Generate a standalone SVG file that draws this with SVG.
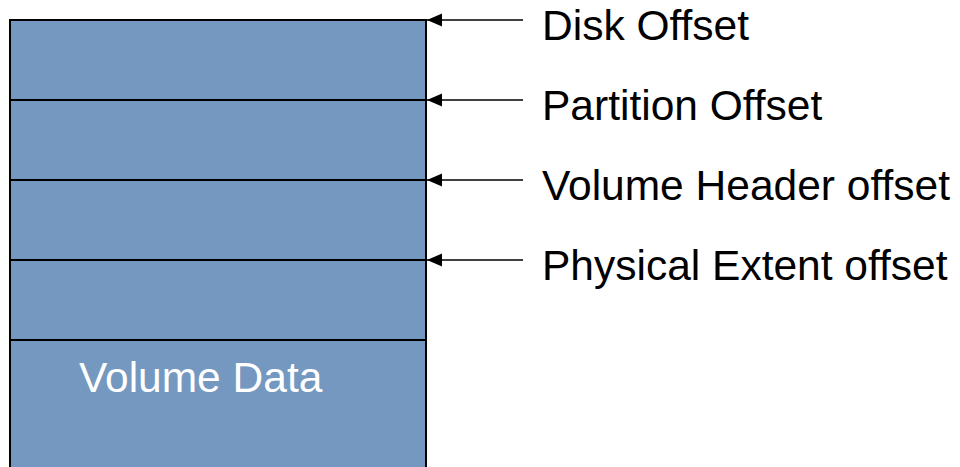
<svg xmlns="http://www.w3.org/2000/svg" width="960" height="467" viewBox="0 0 960 467">
<style>
.seg{fill:#7598c0;stroke:#000;stroke-width:2}
.conn{stroke:#000;stroke-width:1.5;fill:none;marker-end:url(#ah)}
.lbl{font-family:"Liberation Sans",Arial,sans-serif;font-size:42.5px;fill:#000}
.inner{font-family:"Liberation Sans",Arial,sans-serif;font-size:42.5px;fill:#fff}
</style>
<defs>
<marker id="ah" markerWidth="16" markerHeight="14" refX="15" refY="7" orient="auto" markerUnits="userSpaceOnUse">
<path d="M0,0.5 L15,7 L0,13.5 Z" fill="#000"/>
</marker>
</defs>
<rect width="960" height="467" fill="#fff"/>
<g id="volume">
<rect class="seg" x="10" y="20" width="416" height="80"/>
<rect class="seg" x="10" y="100" width="416" height="80"/>
<rect class="seg" x="10" y="180" width="416" height="80"/>
<rect class="seg" x="10" y="260" width="416" height="80"/>
<rect class="seg" x="10" y="340" width="416" height="140"/>
<text class="inner" x="79" y="392">Volume Data</text>
</g>
<g id="connectors">
<line class="conn" x1="523" y1="20" x2="427" y2="20"/>
<line class="conn" x1="523" y1="100" x2="427" y2="100"/>
<line class="conn" x1="523" y1="180" x2="427" y2="180"/>
<line class="conn" x1="523" y1="260" x2="427" y2="260"/>
</g>
<g id="disk-offset"><text class="lbl" x="542" y="40">Disk Offset</text></g>
<g id="partition-offset"><text class="lbl" x="542" y="120">Partition Offset</text></g>
<g id="volume-header-offset"><text class="lbl" x="542" y="200">Volume Header offset</text></g>
<g id="physical-extent-offset"><text class="lbl" x="542" y="280">Physical Extent offset</text></g>
</svg>
